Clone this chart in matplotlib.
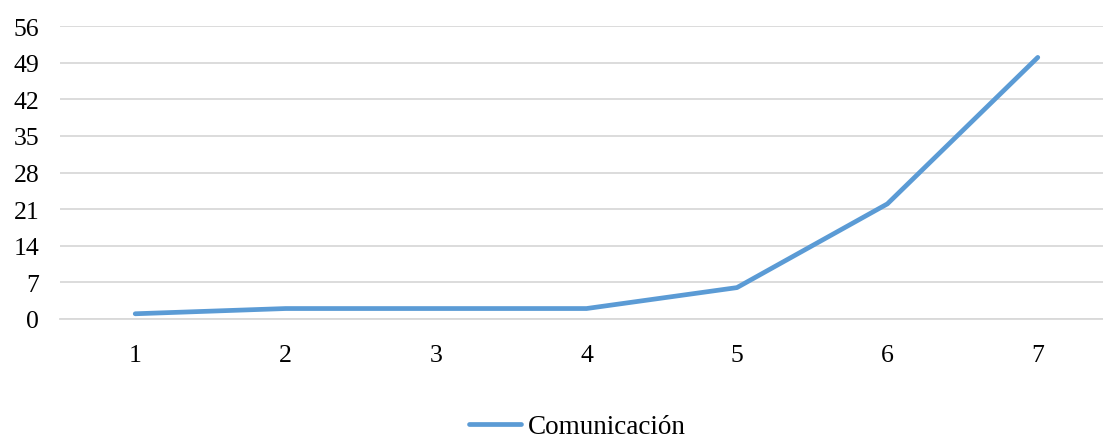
import matplotlib
matplotlib.use("Agg")
import matplotlib.pyplot as plt

categories = ["1", "2", "3", "4", "5", "6", "7"]
values = [1, 2, 2, 2, 6, 22, 50]
series_name = "Comunicación"
yticks = [0, 7, 14, 21, 28, 35, 42, 49, 56]

plt.rcParams['font.family'] = ['Liberation Serif', 'DejaVu Serif']

W, H = 1103, 439
fig = plt.figure(figsize=(W / 100, H / 100), dpi=100)
ax = fig.add_axes([60 / W, 119 / H, (W - 60) / W, 293 / H])

x = list(range(1, len(categories) + 1))
ax.plot(x, values, color="#5B9BD5", lw=3.4, solid_capstyle="round", label=series_name, zorder=3)

ax.set_xlim(0.5, 7.5 - 10 / 150.5)
ax.set_ylim(0, 56)
ax.set_yticks(yticks)
ax.set_xticks(x)
ax.set_xticklabels(categories)
ax.grid(axis="y", color="#D9D9D9", lw=1.3)
ax.set_axisbelow(True)
for s in ["top", "right", "left"]:
    ax.spines[s].set_visible(False)
ax.spines["bottom"].set_color("#D9D9D9")
ax.spines["bottom"].set_linewidth(1.3)
ax.tick_params(axis="both", length=0, labelsize=18.5, colors="#000000")
ax.tick_params(axis="y", pad=15)
ax.tick_params(axis="x", pad=18)

leg = fig.legend(loc="center", bbox_to_anchor=(577 / W, (H - 428) / H), frameon=False,
                 fontsize=19.5, handlelength=1.95, handletextpad=0.22, borderpad=0.1)

fig.savefig("out.png", dpi=100)
